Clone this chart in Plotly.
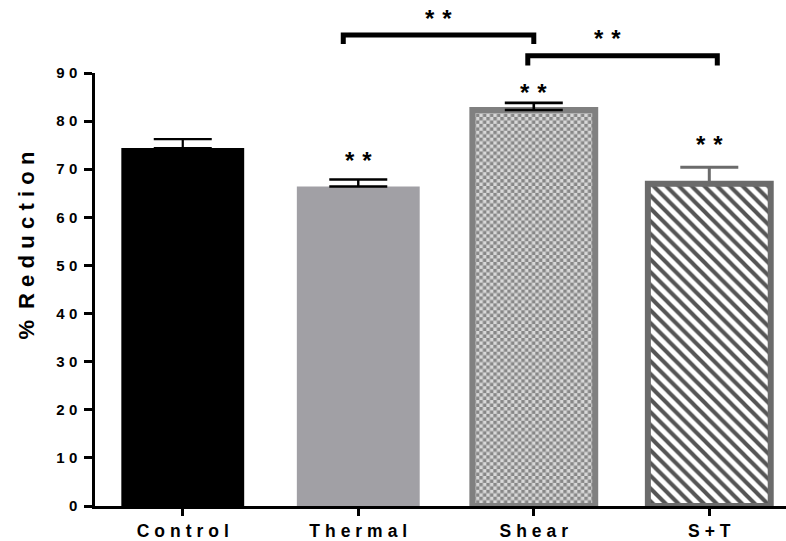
import base64
import plotly.graph_objects as go

# ---- data ----
categories = ["Control", "Thermal", "Shear", "S+T"]
values = [74.4, 66.4, 82.3, 67.0]
errors = [1.85, 1.45, 1.5, 3.4]
sig_bars = ["Thermal", "Shear", "S+T"]
y_ticks = [0, 10, 20, 30, 40, 50, 60, 70, 80, 90]
y_title = "% Reduction"
brackets = [("Thermal", "Shear", "**"), ("Shear", "S+T", "**")]

W, H = 786, 541
ML, MR, MT, MB = 95, 0, 73, 29
XR = [-0.5, 3.437]
YR = [0, 90]
BAR_W = 0.7
FONT = "Liberation Sans, Arial, Helvetica, sans-serif"
PX_X = (W - ML - MR) / (XR[1] - XR[0])
PX_Y = (H - MT - MB) / (YR[1] - YR[0])

def spaced(s, sep="\u2009"):
    return sep.join(list(s))

def px2paper_x(px):
    return (px - ML) / (W - ML - MR)

def px2paper_y(py):
    return (H - MB - py) / (H - MT - MB)

def cat2paper(i):
    return (i - XR[0]) / (XR[1] - XR[0])

def checker_uri(wpx, hpx, sq=3.5, dark="#878787", light="#d8d8d8"):
    p = 2 * sq
    svg = (f'<svg xmlns="http://www.w3.org/2000/svg" width="{wpx:.1f}" height="{hpx:.1f}" '
           f'viewBox="0 0 {wpx:.1f} {hpx:.1f}" preserveAspectRatio="none">'
           f'<defs><pattern id="p" width="{p}" height="{p}" patternUnits="userSpaceOnUse">'
           f'<rect width="{p}" height="{p}" fill="{light}"/>'
           f'<rect width="{sq}" height="{sq}" fill="{dark}"/>'
           f'<rect x="{sq}" y="{sq}" width="{sq}" height="{sq}" fill="{dark}"/>'
           f'</pattern></defs><rect width="100%" height="100%" fill="url(#p)"/></svg>')
    return "data:image/svg+xml;base64," + base64.b64encode(svg.encode()).decode()

styles = [
    dict(color="#000000", line=dict(color="#000000", width=0), pattern=None, ecolor="#000000", eth=2.2, checker=False),
    dict(color="#a1a0a5", line=dict(color="#a1a0a5", width=0), pattern=None, ecolor="#000000", eth=2.4, checker=False),
    dict(color="rgba(0,0,0,0)", line=dict(color="#808080", width=6), pattern=None,
         ecolor="#000000", eth=2.6, checker=True),
    dict(color="#ffffff", line=dict(color="#6b6b6b", width=6),
         pattern=dict(shape="\\", fgcolor="#555555", bgcolor="#ffffff", size=9, solidity=0.45, fillmode="replace"),
         ecolor="#6b6b6b", eth=3, checker=False),
]

fig = go.Figure()
for i, (c, v, e) in enumerate(zip(categories, values, errors)):
    st = styles[i]
    marker = dict(color=st["color"], line=st["line"])
    if st["pattern"]:
        marker["pattern"] = st["pattern"]
    fig.add_trace(go.Bar(
        x=[i], y=[v], width=BAR_W, marker=marker,
        error_y=dict(type="data", array=[e], arrayminus=[0], symmetric=False,
                     color=st["ecolor"], thickness=st["eth"], width=29),
        showlegend=False, hoverinfo="skip",
    ))
    if st["checker"]:
        fig.add_layout_image(
            source=checker_uri(BAR_W * PX_X, v * PX_Y),
            xref="x", yref="y", x=i - BAR_W / 2, y=v, sizex=BAR_W, sizey=v,
            xanchor="left", yanchor="top", sizing="stretch", layer="below", opacity=1,
        )

star_font = dict(family=FONT, size=24, color="#000000", weight="bold")
STARS = "*\u2004*"
star_shift = {"Thermal": 19, "Shear": 10, "S+T": 23}
for c in sig_bars:
    i = categories.index(c)
    fig.add_annotation(x=i, y=values[i] + errors[i], xref="x", yref="y",
                       text=STARS, showarrow=False, yanchor="middle",
                       yshift=star_shift[c], font=star_font)

# brackets
bracket_px = [(34.5, 43.5, -15, 0), (55.5, 65.5, -6, 8)]
for (a, b, txt), (ytop, yleg, dxa, dxb) in zip(brackets, bracket_px):
    ia, ib = categories.index(a), categories.index(b)
    xa = cat2paper(ia) + dxa / (W - ML - MR)
    xb = cat2paper(ib) + dxb / (W - ML - MR)
    yt = px2paper_y(ytop)
    yl = px2paper_y(yleg)
    fig.add_shape(type="path", xref="paper", yref="paper",
                  path=f"M {xa} {yl} L {xa} {yt} L {xb} {yt} L {xb} {yl}",
                  line=dict(color="#000000", width=5))
    fig.add_annotation(x=(xa + xb) / 2, y=px2paper_y(ytop - 17), xref="paper", yref="paper",
                       text=STARS, showarrow=False, yanchor="middle", font=star_font)

# y title
fig.add_annotation(x=px2paper_x(27), y=px2paper_y(248), xref="paper", yref="paper",
                   text="%\u2002" + spaced("Reduction", "\u2009\u200a"), textangle=-90, showarrow=False,
                   xanchor="center", yanchor="middle",
                   font=dict(family=FONT, size=22, color="#000000", weight="bold"))

fig.update_layout(
    width=W, height=H,
    margin=dict(l=ML, r=MR, t=MT, b=MB, pad=0),
    paper_bgcolor="white", plot_bgcolor="white",
    barmode="overlay",
    showlegend=False,
    xaxis=dict(range=XR, tickvals=list(range(len(categories))),
               ticktext=[spaced(c, "\u2009\u200a") for c in categories],
               showgrid=False, zeroline=False, showline=True, linecolor="#000000", linewidth=2.5,
               ticks="outside", ticklen=7, tickwidth=2.5, tickcolor="#000000",
               tickfont=dict(family=FONT, size=17.5, color="#000000", weight="bold")),
    yaxis=dict(range=YR, tickvals=y_ticks, ticktext=[spaced(str(t), "\u2009\u200a") for t in y_ticks],
               showgrid=False, zeroline=False, showline=True, linecolor="#000000", linewidth=2.5,
               ticks="outside", ticklen=8, tickwidth=2.5, tickcolor="#000000",
               ticklabelstandoff=4,
               tickfont=dict(family=FONT, size=15, color="#000000", weight="bold")),
)

fig.write_html("out.html")
